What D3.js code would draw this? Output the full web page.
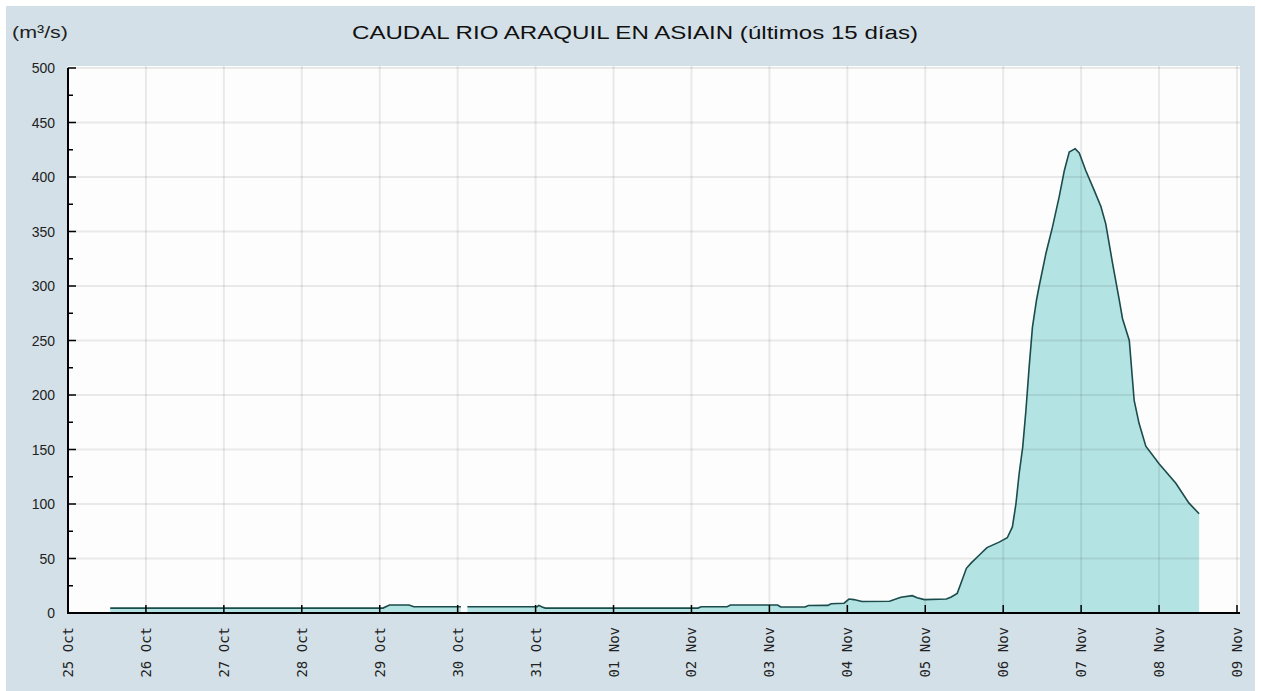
<!DOCTYPE html>
<html>
<head>
<meta charset="utf-8">
<script src="https://cdn.jsdelivr.net/npm/d3@7"></script>
<style>
  body { margin: 0; background: #ffffff; }
  svg { display: block; }
</style>
</head>
<body>
<div id="chart"></div>
<script>
// river flow readings (m3/s), null = missing reading
const times = [
  "2024-10-25 13:00", "2024-10-29 01:00", "2024-10-29 03:00", "2024-10-29 09:00", "2024-10-29 10:30",
  "2024-10-30 01:00", "2024-10-30 02:00", "2024-10-30 03:00", "2024-10-31 00:30", "2024-10-31 01:00",
  "2024-10-31 02:00", "2024-10-31 03:00", "2024-11-02 02:00", "2024-11-02 03:00", "2024-11-02 11:00",
  "2024-11-02 12:00", "2024-11-03 02:30", "2024-11-03 03:30", "2024-11-03 11:00", "2024-11-03 12:00",
  "2024-11-03 18:00", "2024-11-03 19:00", "2024-11-03 23:00", "2024-11-04 00:30", "2024-11-04 02:00",
  "2024-11-04 04:30", "2024-11-04 13:00", "2024-11-04 16:30", "2024-11-04 20:00", "2024-11-04 21:30",
  "2024-11-04 23:45", "2024-11-05 06:30", "2024-11-05 08:00", "2024-11-05 09:50", "2024-11-05 11:20",
  "2024-11-05 12:40", "2024-11-05 14:10", "2024-11-05 16:35", "2024-11-05 19:00", "2024-11-05 22:45",
  "2024-11-06 01:15", "2024-11-06 02:50", "2024-11-06 03:55", "2024-11-06 04:55", "2024-11-06 06:00",
  "2024-11-06 07:00", "2024-11-06 08:00", "2024-11-06 09:00", "2024-11-06 10:15", "2024-11-06 11:05",
  "2024-11-06 13:10", "2024-11-06 15:10", "2024-11-06 17:15", "2024-11-06 18:50", "2024-11-06 20:20",
  "2024-11-06 22:10", "2024-11-06 23:25", "2024-11-07 01:25", "2024-11-07 04:00", "2024-11-07 06:05",
  "2024-11-07 07:35", "2024-11-07 09:40", "2024-11-07 11:45", "2024-11-07 12:45", "2024-11-07 14:50",
  "2024-11-07 16:20", "2024-11-07 17:50", "2024-11-07 19:55", "2024-11-08 00:00", "2024-11-08 05:10",
  "2024-11-08 09:10", "2024-11-08 12:20"
];
const flows = [
  4.5, 4.5, 7.3, 7.3, 5.8,
  5.8, null, 5.8, 5.8, 7,
  5.6, 4.5, 4.5, 5.8, 5.8,
  7.3, 7.3, 5.5, 5.5, 6.9,
  7, 8.5, 9, 12.8, 12.3,
  10.5, 10.8, 14.4, 15.9, 14,
  12.3, 12.8, 14.7, 18, 30,
  41, 46, 53, 60, 65,
  69, 79, 100, 128, 152,
  186, 226, 262, 287, 300,
  330, 354, 382, 406, 423,
  426, 422, 406, 388, 373,
  357, 321, 287, 270, 250,
  195, 174, 153, 137, 119,
  101, 91
];
const yTicks = [0, 50, 100, 150, 200, 250, 300, 350, 400, 450, 500];
const yMinor = [25, 75, 125, 175, 225, 275, 325, 375, 425, 475];
const xStart = "2024-10-25 00:00", xEnd = "2024-11-09 00:00";

const W = 1261, H = 691;
const plot = {left: 68, right: 1240, top: 66, bottom: 613};

const parse = d3.utcParse("%Y-%m-%d %H:%M");
const data = times.map(function(t, i) {
  return {date: parse(t), value: flows[i]};
});

const svg = d3.select("#chart")
  .append("svg")
    .attr("width", W)
    .attr("height", H);

// outer panel
svg.append("rect")
  .attr("x", 6).attr("y", 6)
  .attr("width", 1249).attr("height", H - 6)
  .attr("fill", "#d4e0e8");

svg.append("rect")
  .attr("x", plot.left).attr("y", plot.top)
  .attr("width", plot.right - plot.left).attr("height", plot.bottom - plot.top)
  .attr("fill", "#fcfdfc");

var x = d3.scaleUtc()
  .domain([parse(xStart), parse(xEnd)])
  .range([68, 1237]);

var y = d3.scaleLinear()
  .domain([0, 500])
  .range([613, 68]);

// area + line
var defined = function(d) { return d.value !== null; };

svg.append("path")
  .datum(data)
  .attr("fill", "#b4e3e3")
  .attr("d", d3.area()
    .defined(defined)
    .x(function(d) { return x(d.date); })
    .y0(y(0))
    .y1(function(d) { return y(d.value); })
  );

// grid on top of fill, translucent
var days = x.ticks(d3.utcDay.every(1));
svg.append("g")
  .selectAll("line")
  .data(days.slice(1))
  .enter()
  .append("line")
    .attr("x1", function(d) { return x(d); })
    .attr("x2", function(d) { return x(d); })
    .attr("y1", plot.top)
    .attr("y2", plot.bottom)
    .attr("stroke", "rgba(0,0,0,0.08)")
    .attr("stroke-width", 2);

svg.append("g")
  .selectAll("line")
  .data(yTicks.slice(1))
  .enter()
  .append("line")
    .attr("x1", plot.left)
    .attr("x2", plot.right)
    .attr("y1", function(d) { return y(d); })
    .attr("y2", function(d) { return y(d); })
    .attr("stroke", "rgba(0,0,0,0.08)")
    .attr("stroke-width", 2);

svg.append("path")
  .datum(data)
  .attr("fill", "none")
  .attr("stroke", "#1b4b4b")
  .attr("stroke-width", 1.6)
  .attr("d", d3.line()
    .defined(defined)
    .x(function(d) { return x(d.date); })
    .y(function(d) { return y(d.value); })
  );

// axes
svg.append("line")
  .attr("x1", plot.left).attr("x2", plot.left)
  .attr("y1", y(500)).attr("y2", plot.bottom + 1)
  .attr("stroke", "#000").attr("stroke-width", 2);
svg.append("line")
  .attr("x1", plot.left - 1).attr("x2", plot.right)
  .attr("y1", plot.bottom).attr("y2", plot.bottom)
  .attr("stroke", "#000").attr("stroke-width", 2);

svg.append("g")
  .selectAll("line")
  .data(yTicks)
  .enter()
  .append("line")
    .attr("x1", plot.left).attr("x2", plot.left + 8)
    .attr("y1", function(d) { return y(d); })
    .attr("y2", function(d) { return y(d); })
    .attr("stroke", "#000").attr("stroke-width", 1.5);

svg.append("g")
  .selectAll("line")
  .data(yMinor)
  .enter()
  .append("line")
    .attr("x1", plot.left).attr("x2", plot.left + 5)
    .attr("y1", function(d) { return y(d); })
    .attr("y2", function(d) { return y(d); })
    .attr("stroke", "#000").attr("stroke-width", 1.5);

svg.append("g")
  .selectAll("text")
  .data(yTicks)
  .enter()
  .append("text")
    .attr("x", 55)
    .attr("y", function(d) { return y(d) + 5; })
    .attr("text-anchor", "end")
    .style("font-family", "Liberation Sans, Arial, sans-serif")
    .style("font-size", "14px")
    .attr("fill", "#222")
    .text(function(d) { return d; });

svg.append("g")
  .selectAll("line")
  .data(days)
  .enter()
  .append("line")
    .attr("x1", function(d) { return x(d); })
    .attr("x2", function(d) { return x(d); })
    .attr("y1", plot.bottom)
    .attr("y2", plot.bottom - 8)
    .attr("stroke", "#000").attr("stroke-width", 1.5);

var fmt = d3.utcFormat("%d %b");
svg.append("g")
  .selectAll("text")
  .data(days)
  .enter()
  .append("text")
    .attr("transform", function(d) {
      return "translate(" + (x(d) + 5) + ",627)rotate(-90)";
    })
    .attr("text-anchor", "end")
    .style("font-family", "DejaVu Sans Mono, monospace")
    .style("font-size", "14px")
    .attr("fill", "#222")
    .text(function(d) { return fmt(d); });

// titles
svg.append("text")
  .attr("x", 12)
  .attr("y", 38)
  .attr("textLength", 56)
  .attr("lengthAdjust", "spacingAndGlyphs")
  .style("font-family", "Liberation Sans, Arial, sans-serif")
  .style("font-size", "17px")
  .attr("fill", "#222")
  .text("(m³/s)");

svg.append("text")
  .attr("x", 352)
  .attr("y", 39)
  .attr("textLength", 566)
  .attr("lengthAdjust", "spacingAndGlyphs")
  .style("font-family", "Liberation Sans, Arial, sans-serif")
  .style("font-size", "18px")
  .attr("fill", "#111")
  .text("CAUDAL RIO ARAQUIL EN ASIAIN  (últimos 15 días)");
</script>
</body>
</html>
